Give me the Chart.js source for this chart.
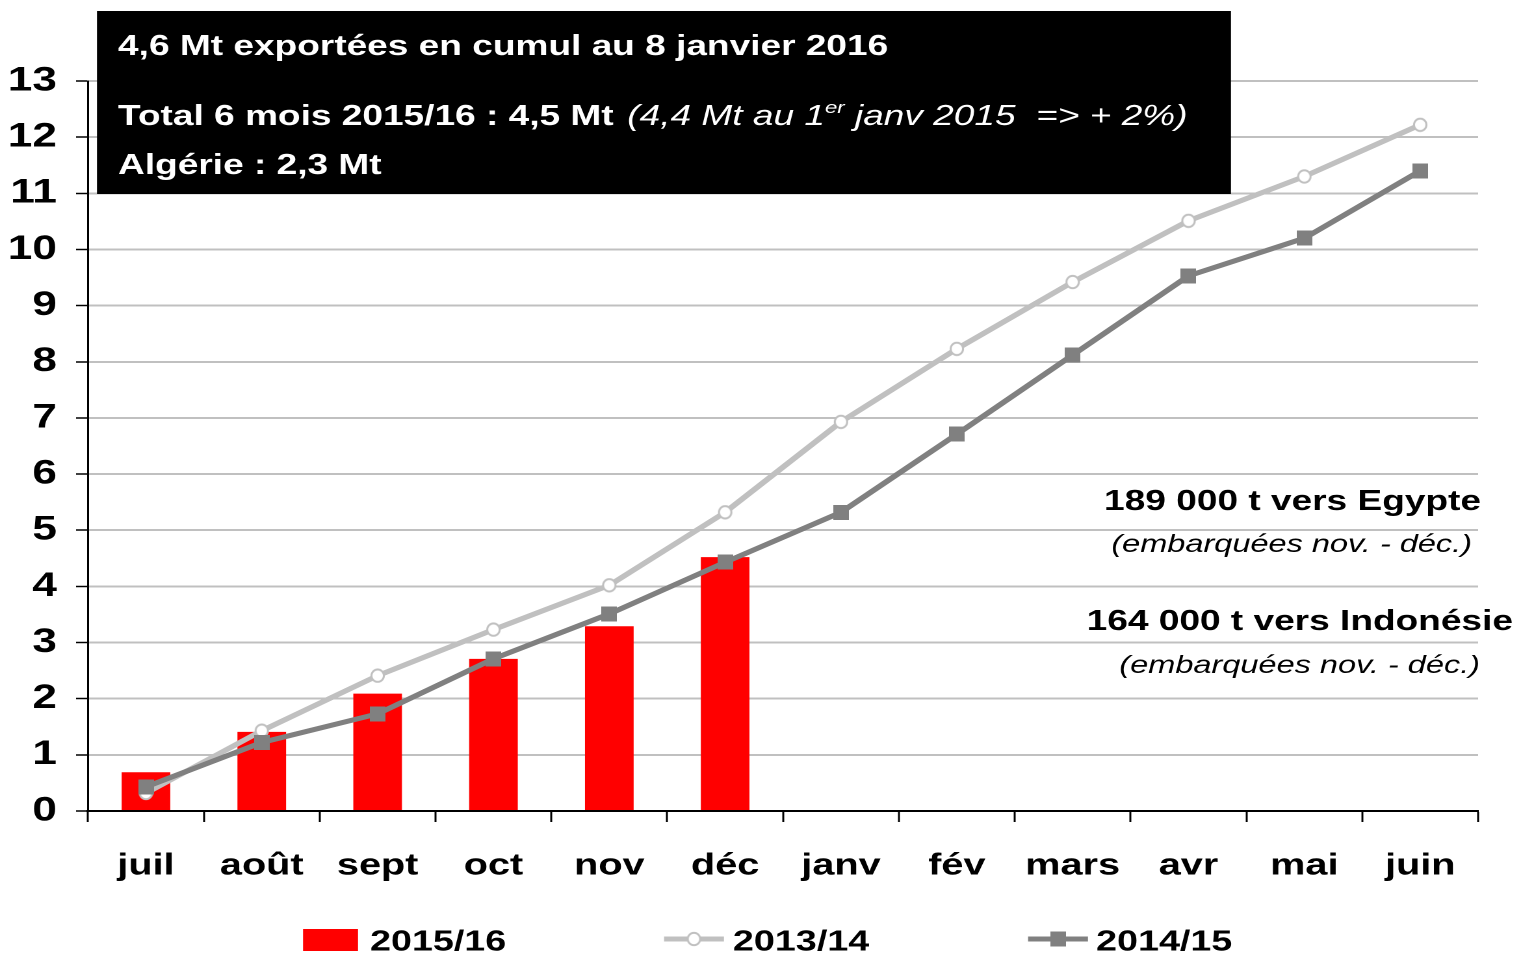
<!DOCTYPE html>
<html lang="fr">
<head>
<meta charset="utf-8">
<script src="https://cdn.jsdelivr.net/npm/chart.js@4.4.0/dist/chart.umd.min.js"></script>
<style>
html, body { margin: 0; padding: 0; background: #fff; overflow: hidden; }
/* the whole drawing is widened by SX, markers are pre-narrowed to stay round */
#chart { transform: scaleX(1.3); transform-origin: 0 0; }
</style>
</head>
<body>
<canvas id="chart" width="1169" height="957"></canvas>
<script>
const SX = 1.3;
const FONT = '"Liberation Sans", Arial, Helvetica, sans-serif';

const months = ['juil', 'août', 'sept', 'oct', 'nov', 'déc', 'janv', 'fév', 'mars', 'avr', 'mai', 'juin'];
const exports_2015_16 = [0.69, 1.41, 2.09, 2.71, 3.29, 4.52];
const exports_2013_14 = [0.32, 1.43, 2.41, 3.23, 4.02, 5.32, 6.93, 8.23, 9.42, 10.51, 11.30, 12.22];
const exports_2014_15 = [0.43, 1.22, 1.73, 2.71, 3.51, 4.43, 5.32, 6.71, 8.12, 9.53, 10.20, 11.40];
const y_max = 13;

const header_lines = [
    '4,6 Mt exportées en cumul au 8 janvier 2016',
    'Total 6 mois 2015/16 : 4,5 Mt',
    'Algérie : 2,3 Mt'
];
const notes = [
    ['189 000 t vers Egypte', '(embarquées nov. - déc.)'],
    ['164 000 t vers Indonésie', '(embarquées nov. - déc.)']
];

// small marker bitmaps, drawn round in screen space then squeezed by SX
function make_marker(w, h, draw) {
    const k = 4;
    const c = document.createElement('canvas');
    c.width = w * k;
    c.height = h * k;
    const g = c.getContext('2d');
    g.scale(k / SX, k);
    draw(g, w * SX, h);
    const img = new Image(w, h);
    img.src = c.toDataURL();
    return img;
}

const circle_marker = make_marker(12, 15, (g, w, h) => {
    g.beginPath();
    g.arc(w / 2, h / 2, 6.2, 0, Math.PI * 2);
    g.fillStyle = '#ffffff';
    g.fill();
    g.lineWidth = 2;
    g.strokeStyle = '#c0c0c0';
    g.stroke();
});

const square_marker = make_marker(12, 15, (g, w, h) => {
    g.fillStyle = '#808080';
    g.fillRect(0, 0, w, h);
});

const overlay = {
    id: 'overlay',
    afterDraw(chart) {
        const ctx = chart.ctx;
        ctx.save();

        // header box
        ctx.fillStyle = '#000000';
        ctx.fillRect(74.6, 11, 872.3, 183);
        ctx.fillStyle = '#ffffff';
        ctx.textAlign = 'left';
        ctx.textBaseline = 'alphabetic';
        ctx.font = 'bold 28.5px ' + FONT;
        ctx.fillText(header_lines[0], 90.8, 55);
        ctx.fillText(header_lines[1], 90.8, 125);
        let x = 90.8 + ctx.measureText(header_lines[1]).width + 10.5;
        ctx.font = 'italic 28.5px ' + FONT;
        ctx.fillText('(4,4 Mt au 1', x, 125);
        x += ctx.measureText('(4,4 Mt au 1').width;
        ctx.font = 'italic 17px ' + FONT;
        ctx.fillText('er', x, 113);
        x += ctx.measureText('er').width;
        ctx.font = 'italic 28.5px ' + FONT;
        ctx.fillText(' janv 2015  => + 2%)', x, 125);
        ctx.font = 'bold 28.5px ' + FONT;
        ctx.fillText(header_lines[2], 90.8, 174);

        // destination notes
        ctx.fillStyle = '#000000';
        ctx.textAlign = 'right';
        ctx.font = 'bold 28.5px ' + FONT;
        ctx.fillText(notes[0][0], 1139.2, 510);
        ctx.fillText(notes[1][0], 1163.8, 630);
        ctx.font = 'italic 25px ' + FONT;
        ctx.fillText(notes[0][1], 1132.3, 552);
        ctx.fillText(notes[1][1], 1138.5, 673);

        // legend
        const ds = chart.data.datasets;
        const bars = ds[2], light = ds[1], dark = ds[0];
        ctx.textAlign = 'left';
        ctx.font = 'bold 29px ' + FONT;
        ctx.fillStyle = bars.backgroundColor;
        ctx.fillRect(233.1, 929, 42.3, 22);
        ctx.fillStyle = '#000000';
        ctx.fillText(bars.label, 284.6, 950.5);

        [[light, circle_marker, 510.8, 563.8], [dark, square_marker, 790.8, 843.1]].forEach(([d, img, x0, tx]) => {
            ctx.strokeStyle = d.borderColor;
            ctx.lineWidth = 5;
            ctx.beginPath();
            ctx.moveTo(x0, 939);
            ctx.lineTo(x0 + 46.1, 939);
            ctx.stroke();
            ctx.drawImage(img, x0 + 23 - img.width / 2, 939 - img.height / 2, img.width, img.height);
            ctx.fillStyle = '#000000';
            ctx.fillText(d.label, tx, 950.5);
        });

        ctx.restore();
    }
};

function plot_exports(chart_id) {
    const ctx = document.getElementById(chart_id).getContext('2d');
    const chart = new Chart(ctx, {
        type: 'bar',
        data: {
            labels: months,
            datasets: [
                {
                    type: 'line',
                    label: '2014/15',
                    data: exports_2014_15,
                    borderColor: '#808080',
                    borderWidth: 5,
                    pointStyle: square_marker,
                    pointRadius: 7,
                    tension: 0,
                    order: 0
                },
                {
                    type: 'line',
                    label: '2013/14',
                    data: exports_2013_14,
                    borderColor: '#c0c0c0',
                    borderWidth: 5,
                    pointStyle: circle_marker,
                    pointRadius: 7,
                    tension: 0,
                    order: 1
                },
                {
                    label: '2015/16',
                    data: exports_2015_16,
                    backgroundColor: '#ff0000',
                    barPercentage: 0.42,
                    categoryPercentage: 1,
                    order: 2
                }
            ]
        },
        options: {
            responsive: false,
            animation: false,
            devicePixelRatio: 2,
            layout: { padding: { top: 81, right: 32, left: 0, bottom: 0 } },
            plugins: {
                legend: { display: false },
                tooltip: { enabled: false }
            },
            scales: {
                x: {
                    grid: {
                        offset: true,
                        drawOnChartArea: false,
                        tickLength: 11,
                        tickColor: '#000000',
                        tickWidth: 1.5
                    },
                    border: { color: '#000000', width: 2 },
                    ticks: {
                        color: '#000000',
                        font: { family: FONT, size: 30.5, weight: 'bold' },
                        padding: 26,
                        maxRotation: 0,
                        autoSkip: false
                    },
                    afterFit: s => { s.height = 146; }
                },
                y: {
                    min: 0,
                    max: y_max,
                    ticks: {
                        stepSize: 1,
                        color: '#000000',
                        font: { family: FONT, size: 34, weight: 'bold' },
                        padding: 14.7
                    },
                    grid: {
                        color: c => c.tick && c.tick.value === 0 ? '#000000' : '#c0c0c0',
                        lineWidth: 2,
                        tickLength: 9.2,
                        tickColor: '#000000',
                        tickWidth: 1.5
                    },
                    border: { color: '#000000', width: 1.5 },
                    afterFit: s => { s.width = 67.7; }
                }
            }
        },
        plugins: [overlay]
    });
    return chart;
}

Promise.all([circle_marker, square_marker].map(img => img.decode())).then(() => plot_exports('chart'));
</script>
</body>
</html>
